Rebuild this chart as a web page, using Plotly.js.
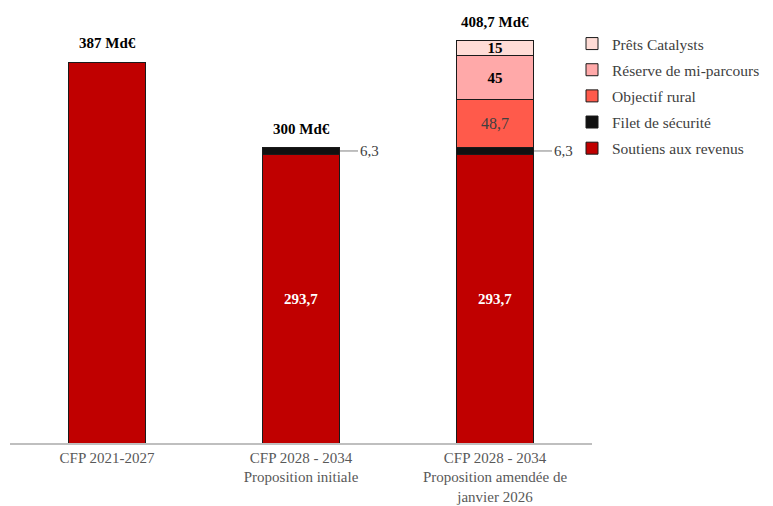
<!DOCTYPE html>
<html>
<head>
<meta charset="utf-8">
<script src="https://cdn.plot.ly/plotly-3.0.1.min.js"></script>
<style>
  html, body { margin: 0; padding: 0; background: #fff; }
  #plot-container { width: 773px; height: 506px; }
</style>
</head>
<body>
<div id="plot-container"></div>
<script>
// chart data
const categories = ['CFP 2021-2027', 'CFP 2028 - 2034<br>Proposition initiale', 'CFP 2028 - 2034<br>Proposition amendée de<br>janvier 2026'];
const soutiens = [387, 293.7, 293.7];
const filet = [null, 6.3, 6.3];
const rural = [null, null, 48.7];
const reserve = [null, null, 45];
const catalysts = [null, null, 15];

const FONT = 'Liberation Serif, DejaVu Serif, serif';
const fmt = v => (v === null || v === undefined) ? '' : String(v).replace('.', ',');
const bold = v => (v === null || v === undefined) ? '' : '<b>' + fmt(v) + '</b>';

function makeTrace(name, values, color, rank, textStyle, texts) {
    return {
        type: 'bar',
        name: name,
        legendgroup: name,
        legendrank: rank,
        x: categories,
        y: values,
        marker: { color: color, line: { color: '#1a1a1a', width: 1 } },
        text: texts || values.map(fmt),
        textposition: texts === null ? 'none' : 'inside',
        insidetextanchor: 'middle',
        constraintext: 'none',
        textangle: 0,
        insidetextfont: textStyle,
        hoverinfo: 'none'
    };
}

const traces = [
    makeTrace('Soutiens aux revenus', soutiens, '#C00000', 5,
        { family: FONT, size: 15, color: '#ffffff' },
        soutiens.map((v, i) => i === 0 ? '' : bold(v))),
    makeTrace('Filet de sécurité', filet, '#111111', 4, { family: FONT, size: 1, color: '#111' }, null),
    makeTrace('Objectif rural', rural, '#FF5A4B', 3,
        { family: FONT, size: 16, color: '#404040' }),
    makeTrace('Réserve de mi-parcours', reserve, '#FFA9A9', 2,
        { family: FONT, size: 15, color: '#000' }, reserve.map(bold)),
    makeTrace('Prêts Catalysts', catalysts, '#FFDCD6', 1,
        { family: FONT, size: 15, color: '#000' }, catalysts.map(bold))
];

const annotations = [];
// totals above each bar
categories.forEach((c, i) => {
    const total = [soutiens, filet, rural, reserve, catalysts]
        .reduce((s, arr) => s + (arr[i] || 0), 0);
    annotations.push({
        x: c, y: total, xref: 'x', yref: 'y',
        text: '<b>' + fmt(Math.round(total * 10) / 10) + ' Md€</b>',
        showarrow: false, yanchor: 'bottom', yshift: 9,
        font: { family: FONT, size: 15, color: '#000' }
    });
});
// small filet labels to the right of the bars
categories.forEach((c, i) => {
    if (!filet[i]) return;
    annotations.push({
        x: c, y: soutiens[i] + filet[i] / 2, xref: 'x', yref: 'y',
        text: fmt(filet[i]),
        showarrow: true, arrowhead: 0, arrowwidth: 1, arrowcolor: '#808080',
        ax: 18, ay: 0, xshift: 39, xanchor: 'left',
        font: { family: FONT, size: 15, color: '#404040' }
    });
});

const layout = {
    width: 773, height: 506,
    font: { family: FONT },
    margin: { t: 20, l: 10, r: 181, b: 63, autoexpand: false },
    barmode: 'stack',
    bargap: 0.6,
    showlegend: true,
    legend: {
        xref: 'container', yref: 'container',
        x: 572 / 773, xanchor: 'left', y: 1 - 27 / 506, yanchor: 'top',
        traceorder: 'grouped',
        font: { family: FONT, size: 15.5, color: '#404040' },
        itemwidth: 30, tracegroupgap: 3
    },
    xaxis: {
        type: 'category',
        showline: true, linecolor: '#BFBFBF', linewidth: 1.5,
        ticks: '', showgrid: false,
        tickfont: { family: FONT, size: 15, color: '#595959' }
    },
    yaxis: {
        range: [0, 430],
        visible: false, showgrid: false, zeroline: false
    },
    annotations: annotations,
    paper_bgcolor: '#ffffff', plot_bgcolor: '#ffffff',
    hovermode: false
};

Plotly.newPlot('plot-container', traces, layout, { displayModeBar: false, staticPlot: true });
</script>
</body>
</html>
